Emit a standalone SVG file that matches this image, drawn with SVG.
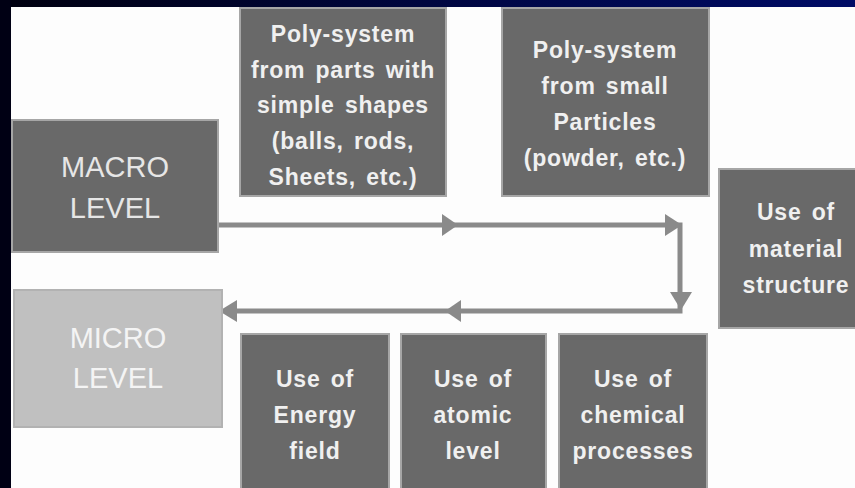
<svg xmlns="http://www.w3.org/2000/svg" width="855" height="488" viewBox="0 0 855 488">
  <defs>
    <linearGradient id="bandTop" x1="0" y1="0" x2="1" y2="0">
      <stop offset="0" stop-color="#00000f"/>
      <stop offset="0.5" stop-color="#000640"/>
      <stop offset="1" stop-color="#000c66"/>
    </linearGradient>
    <style>
      .box { fill: #696969; stroke: #a6a6a6; stroke-width: 2; }
      .box-light { fill: #c0c0c0; stroke: #b2b2b2; stroke-width: 2; }
      .lbl { font-family: "Liberation Sans", Arial, sans-serif; font-weight: bold; font-size: 23px; letter-spacing: 0.8px; fill: #f0f0f0; text-anchor: middle; }
      .lvl { font-family: "Liberation Sans", Arial, sans-serif; font-size: 29px; fill: #e6e6e6; text-anchor: middle; }
      .lvl-light { fill: #f4f4f4; }
      .flow { fill: none; stroke: #8a8a8a; stroke-width: 5; stroke-linejoin: miter; }
      .head { fill: #8a8a8a; }
    </style>
  </defs>

  <!-- page and frame bands -->
  <rect x="0" y="0" width="855" height="488" fill="#fdfdfd"/>
  <rect x="0" y="0" width="855" height="7" fill="url(#bandTop)"/>
  <rect x="0" y="0" width="11" height="488" fill="#000014"/>

  <!-- connectors -->
  <g id="connectors">
    <path class="flow" d="M218,225 H680 V311 H224"/>
    <polygon class="head" points="442,214 458,225 442,236"/>
    <polygon class="head" points="665,214 682,225 665,236"/>
    <polygon class="head" points="670,292 692,292 681,310"/>
    <polygon class="head" points="461,300 445,311 461,322"/>
    <polygon class="head" points="237,300 219,311 237,322"/>
  </g>

  <g id="macro-level">
    <rect class="box" x="12" y="120" width="206" height="132"/>
    <text class="lvl" x="115" y="177">MACRO</text>
    <text class="lvl" x="115" y="218">LEVEL</text>
  </g>

  <g id="micro-level">
    <rect class="box-light" x="14" y="290" width="208" height="137"/>
    <text class="lvl lvl-light" x="118" y="348">MICRO</text>
    <text class="lvl lvl-light" x="118" y="388">LEVEL</text>
  </g>

  <g id="poly-simple-shapes">
    <rect class="box" x="240" y="8" width="206" height="188"/>
    <text class="lbl" x="343" y="42">Poly-system</text>
    <text class="lbl" x="343" y="78" word-spacing="3">from parts with</text>
    <text class="lbl" x="343" y="113" word-spacing="3">simple shapes</text>
    <text class="lbl" x="343" y="149" word-spacing="3">(balls, rods,</text>
    <text class="lbl" x="343" y="185" word-spacing="3">Sheets, etc.)</text>
  </g>

  <g id="poly-small-particles">
    <rect class="box" x="502" y="8" width="207" height="188"/>
    <text class="lbl" x="605" y="58">Poly-system</text>
    <text class="lbl" x="605" y="94" word-spacing="3">from small</text>
    <text class="lbl" x="605" y="130">Particles</text>
    <text class="lbl" x="605" y="166" word-spacing="3">(powder, etc.)</text>
  </g>

  <g id="material-structure">
    <rect class="box" x="719" y="169" width="160" height="159"/>
    <text class="lbl" x="796" y="220" word-spacing="3">Use of</text>
    <text class="lbl" x="796" y="257">material</text>
    <text class="lbl" x="796" y="293">structure</text>
  </g>

  <g id="energy-field">
    <rect class="box" x="241" y="334" width="148" height="170"/>
    <text class="lbl" x="315" y="387" word-spacing="3">Use of</text>
    <text class="lbl" x="315" y="423">Energy</text>
    <text class="lbl" x="315" y="459">field</text>
  </g>

  <g id="atomic-level">
    <rect class="box" x="401" y="334" width="145" height="170"/>
    <text class="lbl" x="473" y="387" word-spacing="3">Use of</text>
    <text class="lbl" x="473" y="423">atomic</text>
    <text class="lbl" x="473" y="459">level</text>
  </g>

  <g id="chemical-processes">
    <rect class="box" x="559" y="334" width="148" height="170"/>
    <text class="lbl" x="633" y="387" word-spacing="3">Use of</text>
    <text class="lbl" x="633" y="423">chemical</text>
    <text class="lbl" x="633" y="459">processes</text>
  </g>
</svg>
